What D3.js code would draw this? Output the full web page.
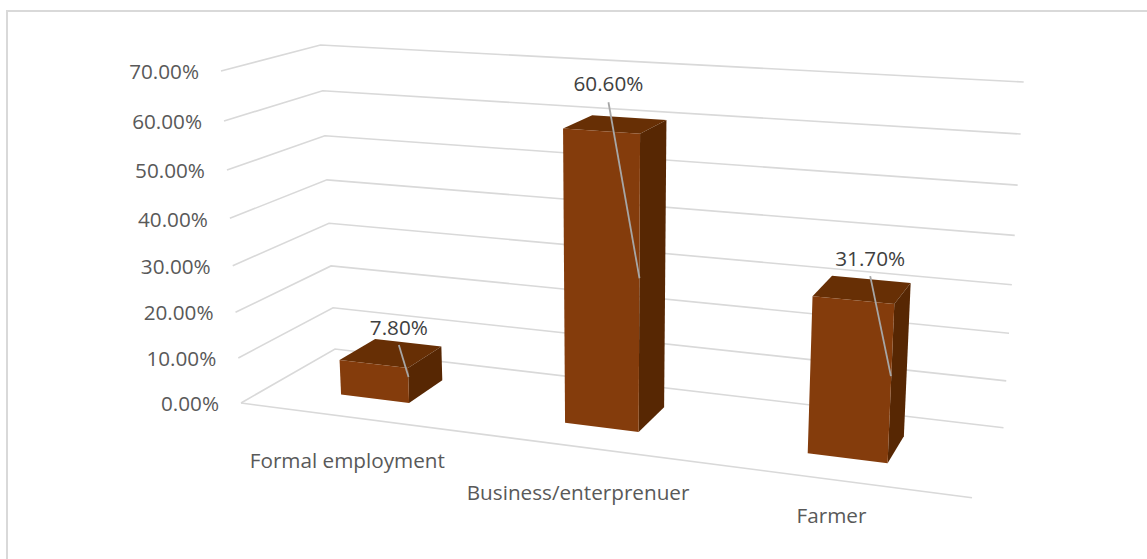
<!DOCTYPE html>
<html>
<head>
<meta charset="utf-8">
<style>
html,body{margin:0;padding:0;background:#fff;overflow:hidden}
text{font-family:"Open Sans",sans-serif}
</style>
<script src="https://cdn.jsdelivr.net/npm/d3@7/dist/d3.min.js"></script>
</head>
<body>
<svg id="chart" width="1147" height="559"></svg>
<script>
// Chart values
const categories = ["Formal employment", "Business/enterprenuer", "Farmer"];
const shares = [7.8, 60.6, 31.7];
const shareLabels = ["7.80%", "60.60%", "31.70%"];
const tickValues = [0, 10, 20, 30, 40, 50, 60, 70];
const tickLabels = ["0.00%", "10.00%", "20.00%", "30.00%", "40.00%", "50.00%", "60.00%", "70.00%"];

// Box corners of the 3-D plot: floor level and top level
const floorCorners = {lf: [241, 403], rf: [972, 497.7], rb: [1003.5, 427.7], lb: [335, 349]};
const topCorners = {lf: [221, 71], rf: [992.5, 115.8], rb: [1023.7, 82], lb: [320.5, 45]};
const foreshorten = 1.0634;

// Leader line starts relative to the anchor, and category label offsets
const leaderOffsets = [[-9.7, -32], [-31, -176], [-20.7, -100]];
const anchorRaise = -8.5;
const labelGap = [-17, -18, -17];
const categoryOffsets = [[0, 44], [-2, 46], [-1.5, 36]];
const textSize = 20.7;

const svg = d3.select("#chart");

const u = d3.scaleBand().domain(categories).range([-0.005, 0.995]).paddingInner(0.688).paddingOuter(0.344);
const depth = d3.scaleLinear().domain([0, 1]).range([0.3, 0.7]);
const level = d3.scaleLinear().domain([0, 70]).range([0, 1]);

// Height fraction with perspective: upper levels are spaced slightly wider
const lift = v => { const t = level(v); return t / (foreshorten - (foreshorten - 1) * t); };

// Maps a floor position (a across, b into the depth) at value v to the screen
function project(a, b, v) {
  const s = lift(v);
  const c = k => d3.interpolateArray(floorCorners[k], topCorners[k])(s);
  const [x0, y0] = c("lf"), [x1, y1] = c("rf"), [x2, y2] = c("rb"), [x3, y3] = c("lb");
  const dx1 = x1 - x2, dx2 = x3 - x2, sx = x0 - x1 + x2 - x3;
  const dy1 = y1 - y2, dy2 = y3 - y2, sy = y0 - y1 + y2 - y3;
  const det = dx1 * dy2 - dx2 * dy1;
  const g = (sx * dy2 - dx2 * sy) / det;
  const h = (dx1 * sy - sx * dy1) / det;
  const w = g * a + h * b + 1;
  return [
    ((x1 - x0 + g * x1) * a + (x3 - x0 + h * x3) * b + x0) / w,
    ((y1 - y0 + g * y1) * a + (y3 - y0 + h * y3) * b + y0) / w
  ];
}

const line = d3.line();

// Frame along the top and left edges
svg.append("path").attr("d", "M7,559V11H1147").attr("fill", "none")
  .attr("stroke", "#d9d9d9").attr("stroke-width", 2);

// Gridlines across the side wall and back wall, plus the front floor edge
svg.append("g").selectAll("path").data(tickValues).join("path")
  .attr("d", v => line([project(0, 0, v), project(0, 1, v), project(1, 1, v)]))
  .attr("fill", "none").attr("stroke", "#d9d9d9").attr("stroke-width", 1.6);
svg.append("path").attr("d", line([project(0, 0, 0), project(1, 0, 0)]))
  .attr("fill", "none").attr("stroke", "#d9d9d9").attr("stroke-width", 1.6);

// Value axis labels
svg.append("g").selectAll("text").data(tickValues).join("text")
  .attr("x", v => project(0, 0, v)[0] - 22)
  .attr("y", v => project(0, 0, v)[1] + 1)
  .attr("dy", "0.35em").attr("text-anchor", "end")
  .attr("font-size", textSize).attr("fill", "#595959")
  .text((v, i) => tickLabels[i]);

// Bars: top, side and front faces
const bars = svg.append("g").selectAll("g").data(categories).join("g");
const corner = (c, side, d, v) => project(u(c) + side * u.bandwidth(), depth(d), v);
const val = c => shares[categories.indexOf(c)];

bars.append("path").attr("fill", "#672f05")
  .attr("d", c => line([corner(c, 0, 0, val(c)), corner(c, 1, 0, val(c)), corner(c, 1, 1, val(c)), corner(c, 0, 1, val(c))]) + "Z");
bars.append("path").attr("fill", "#572703")
  .attr("d", c => line([corner(c, 1, 0, 0), corner(c, 1, 1, 0), corner(c, 1, 1, val(c)), corner(c, 1, 0, val(c))]) + "Z");
bars.append("path").attr("fill", "#843c0c")
  .attr("d", c => line([corner(c, 0, 0, 0), corner(c, 1, 0, 0), corner(c, 1, 0, val(c)), corner(c, 0, 0, val(c))]) + "Z");

// Leader lines from each value label to the middle of the bar's front edge
const anchor = c => { const a = corner(c, 1, 0, val(c) / 2); return [a[0], a[1] + anchorRaise]; };
const labelStart = (c, i) => { const a = anchor(c); return [a[0] + leaderOffsets[i][0], a[1] + leaderOffsets[i][1]]; };

svg.append("g").selectAll("path").data(categories).join("path")
  .attr("d", (c, i) => line([labelStart(c, i), anchor(c)]))
  .attr("fill", "none").attr("stroke", "#a6a6a6").attr("stroke-width", 1.8);

// Value labels
svg.append("g").selectAll("text").data(categories).join("text")
  .attr("x", (c, i) => labelStart(c, i)[0])
  .attr("y", (c, i) => labelStart(c, i)[1] + labelGap[i])
  .attr("dy", "0.35em").attr("text-anchor", "middle")
  .attr("font-size", textSize).attr("fill", "#404040")
  .text((c, i) => shareLabels[i]);

// Category labels below the floor
svg.append("g").selectAll("text").data(categories).join("text")
  .attr("x", (c, i) => project(u(c) + u.bandwidth() / 2, 0, 0)[0] + categoryOffsets[i][0])
  .attr("y", (c, i) => project(u(c) + u.bandwidth() / 2, 0, 0)[1] + categoryOffsets[i][1])
  .attr("dy", "0.35em").attr("text-anchor", "middle")
  .attr("font-size", textSize).attr("fill", "#595959")
  .text(c => c);
</script>
</body>
</html>
